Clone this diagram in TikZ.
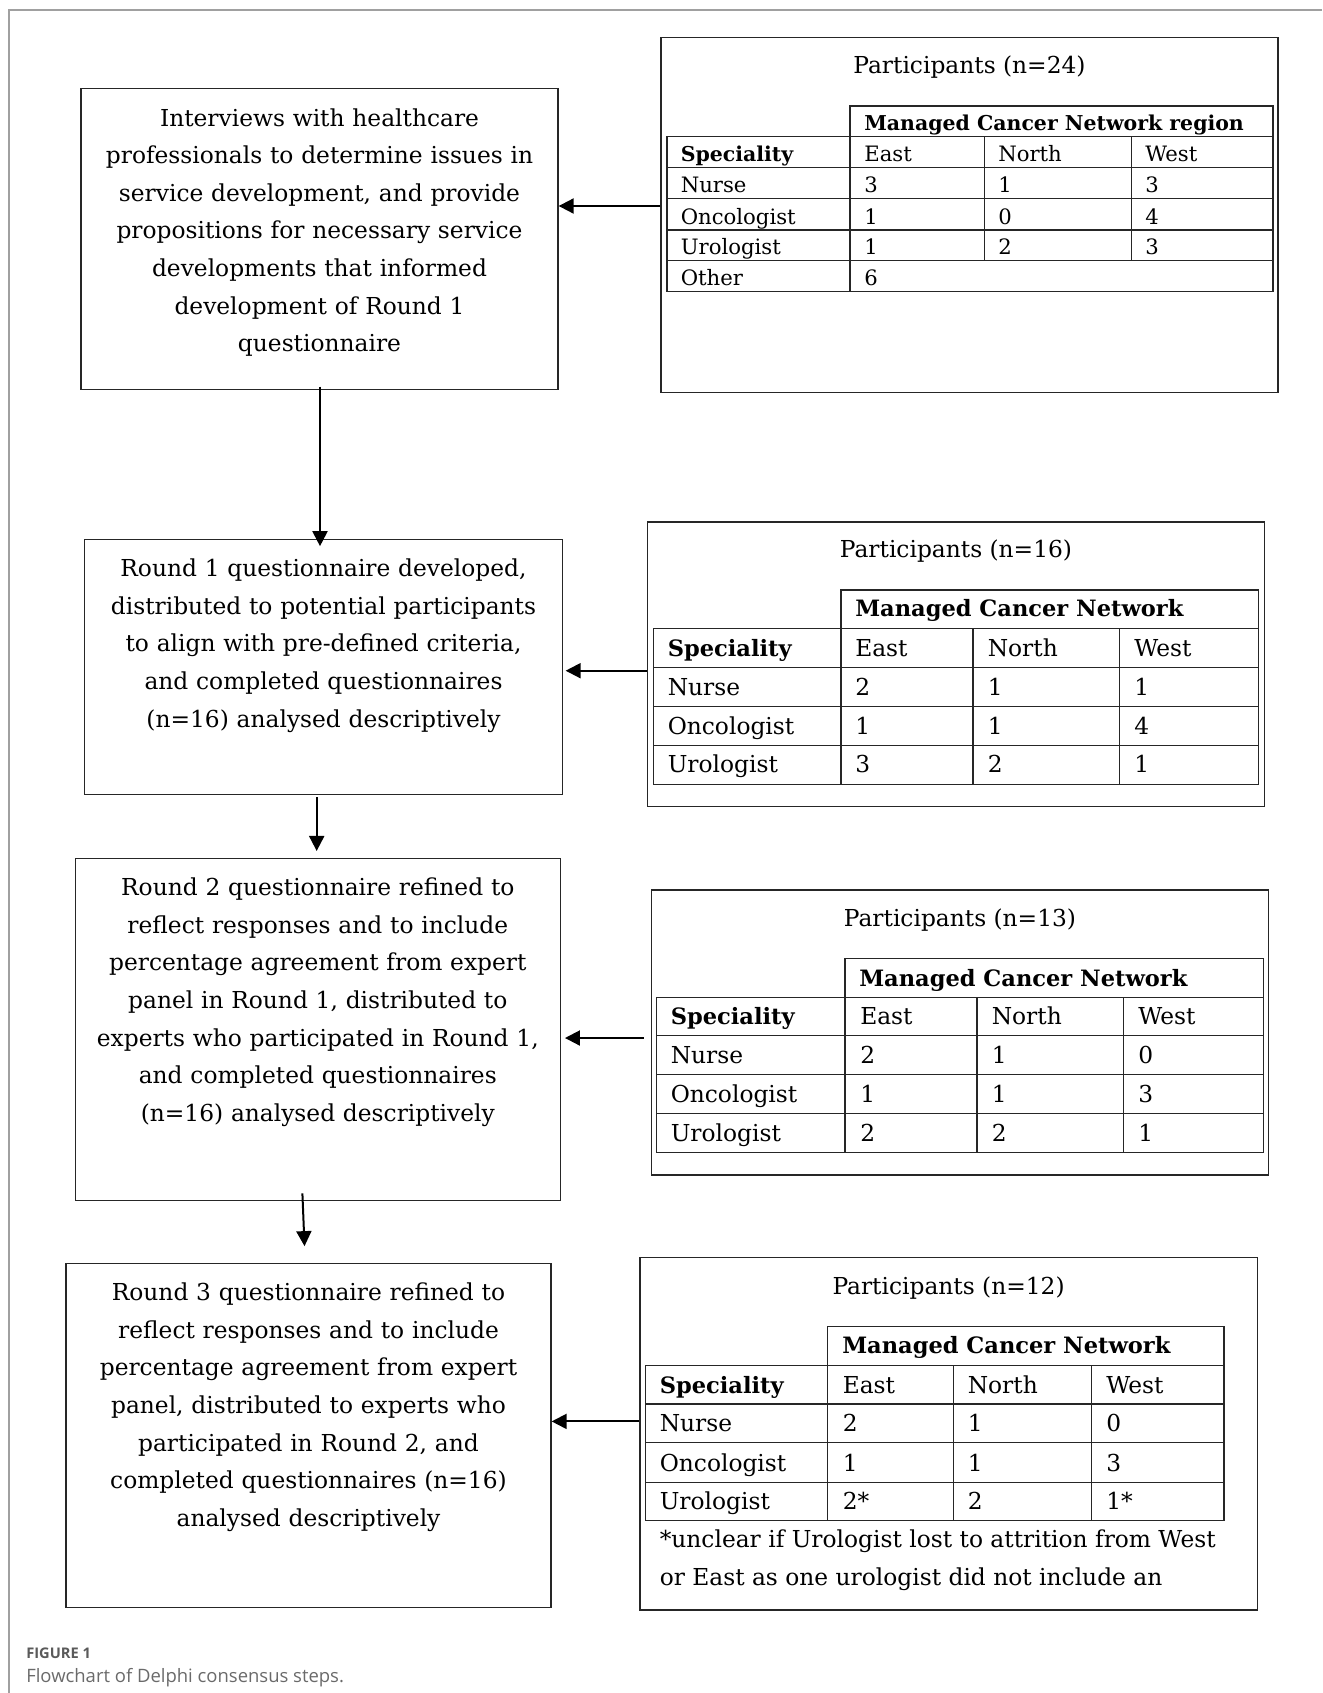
\documentclass[tikz,border=0pt]{standalone}
\usepackage{fontspec}
\setmainfont{DejaVu Serif}
\newfontfamily\capfont{Open Sans}
\usetikzlibrary{arrows.meta,fit}
\newcommand\boxfont{\fontsize{17.5pt}{28.2pt}\selectfont}
\newcommand\tabfont{\fontsize{17.5pt}{28.1pt}\selectfont}
\newcommand\tabfontA{\fontsize{15.9pt}{20pt}\selectfont}
\newcommand\hdB{\fontsize{16.9pt}{20pt}\selectfont\bfseries}
\newcommand\hdA{\fontsize{15.35pt}{20pt}\selectfont\bfseries}
\definecolor{framegray}{HTML}{A0A0A0}
\definecolor{capgray}{HTML}{6A6A6A}
\tikzset{
  box/.style={draw=black!85, line width=1pt, inner sep=0pt},
  btxt/.style={font=\boxfont, text width=360pt, align=center, inner sep=0pt, anchor=base},
  tline/.style={draw=black!85, line width=1pt},
  tt/.style={font=\tabfont, inner sep=0pt, anchor=base west},
  ttA/.style={font=\tabfontA, inner sep=0pt, anchor=base west},
  ttl/.style={font=\tabfont, inner sep=0pt, anchor=base},
  arr/.style={line width=1.5pt, -{Triangle[length=11.25pt,width=11.25pt]}},
}
\begin{document}
\begin{tikzpicture}[x=0.75pt,y=-0.75pt]
\useasboundingbox (0,0) rectangle (1322,1693);
% outer frame
\draw[framegray, line width=0.8pt] (9,1693) -- (9,10) -- (1322,10);

% left boxes
\node[box, fit={(81,88.5) (558,389.3)}] (B1) {};
\node[box, fit={(84.7,539.5) (562.3,794.3)}] (B2) {};
\node[box, fit={(75.3,858.3) (560.3,1200.3)}] (B3) {};
\node[box, fit={(66,1263.3) (551,1607.8)}] (B4) {};

\node[btxt] (B1t) at (319.5,126) {Interviews with healthcare\\ professionals to determine issues in\\ service development, and provide\\ propositions for necessary service\\ developments that informed\\ development of Round 1\\ questionnaire};
\node[btxt] (B2t) at (323.5,576.7) {Round 1 questionnaire developed,\\ distributed to potential participants\\ to align with pre-defined criteria,\\ and completed questionnaires\\ (n=16) analysed descriptively};
\node[btxt] (B3t) at (317.8,895.7) {Round 2 questionnaire refined to\\ reflect responses and to include\\ percentage agreement from expert\\ panel in Round 1, distributed to\\ experts who participated in Round 1,\\ and completed questionnaires\\ (n=16) analysed descriptively};
\node[btxt] (B4t) at (308.5,1300.7) {Round 3 questionnaire refined to\\ reflect responses and to include\\ percentage agreement from expert\\ panel, distributed to experts who\\ participated in Round 2, and\\ completed questionnaires (n=16)\\ analysed descriptively};

% right boxes
\node[box, fit={(661,37.5) (1278,392.5)}] (T1) {};
\node[box, fit={(647.5,522) (1264.8,806.5)}] (T2) {};
\node[box, fit={(651.3,890) (1268.4,1175)}] (T3) {};
\node[box, fit={(640,1257.3) (1257.2,1610)}] (T4) {};

% ---------- table 1
\node[ttl] (T1title) at (969.5,73.3) {Participants (n=24)};
\draw[tline] (850,106) rectangle (1273,136.7);
\draw[tline] (667,136.7) rectangle (1273,291.7);
\foreach \y in {167.7,198.7,230,260.7} \draw[tline] (667,\y) -- (1273,\y);
\draw[tline] (850,136.7) -- (850,291.7);
\foreach \x in {984.5,1131.5} \draw[tline] (\x,136.7) -- (\x,260.7);
\node[ttA] (T1h) at (864,130) {\hdA Managed Cancer Network region};
\foreach \a/\b/\c/\d/\yy [count=\i] in {{\hdA Speciality}/East/North/West/161.7, Nurse/3/1/3/192.7, Oncologist/1/0/4/224, Urologist/1/2/3/254.7}{
  \node[ttA] (T1r\i-a) at (680.5,\yy) {\a};
  \node[ttA] (T1r\i-b) at (864,\yy) {\b};
  \node[ttA] (T1r\i-c) at (998,\yy) {\c};
  \node[ttA] (T1r\i-d) at (1145,\yy) {\d};
}
\node[ttA] (T1r5-a) at (680.5,285.7) {Other};
\node[ttA] (T1r5-b) at (864,285.7) {6};

% ---------- table 2
\node[ttl] (T2title) at (956,557.7) {Participants (n=16)};
\draw[tline] (841,590) rectangle (1258.6,628.3);
\draw[tline] (653.3,628.3) rectangle (1258.6,784.3);
\foreach \y in {667.7,706.7,745.7} \draw[tline] (653.3,\y) -- (1258.6,\y);
\foreach \x in {841,973,1119.5} \draw[tline] (\x,628.3) -- (\x,784.3);
\node[tt] (T2h) at (855,616.7) {\hdB Managed Cancer Network};
\foreach \a/\b/\c/\d/\yy [count=\i] in {{\hdB Speciality}/East/North/West/656, Nurse/2/1/1/695, Oncologist/1/1/4/734, Urologist/3/2/1/772.6}{
  \node[tt] (T2r\i-a) at (667.5,\yy) {\a};
  \node[tt] (T2r\i-b) at (855,\yy) {\b};
  \node[tt] (T2r\i-c) at (987.5,\yy) {\c};
  \node[tt] (T2r\i-d) at (1134,\yy) {\d};
}

% ---------- table 3
\node[ttl] (T3title) at (960,926) {Participants (n=13)};
\draw[tline] (844.9,958.7) rectangle (1263.3,997.3);
\draw[tline] (656.3,997.3) rectangle (1263.3,1152.7);
\foreach \y in {1035.7,1074.3,1113.3} \draw[tline] (656.3,\y) -- (1263.3,\y);
\foreach \x in {844.9,977.1,1123.7} \draw[tline] (\x,997.3) -- (\x,1152.7);
\node[tt] (T3h) at (859,986) {\hdB Managed Cancer Network};
\foreach \a/\b/\c/\d/\yy [count=\i] in {{\hdB Speciality}/East/North/West/1024.7, Nurse/2/1/0/1063.3, Oncologist/1/1/3/1102.3, Urologist/2/2/1/1141.7}{
  \node[tt] (T3r\i-a) at (670.5,\yy) {\a};
  \node[tt] (T3r\i-b) at (860,\yy) {\b};
  \node[tt] (T3r\i-c) at (991.5,\yy) {\c};
  \node[tt] (T3r\i-d) at (1138,\yy) {\d};
}

% ---------- table 4
\node[ttl] (T4title) at (948.6,1294) {Participants (n=12)};
\draw[tline] (827.3,1326.7) rectangle (1224,1365.7);
\draw[tline] (645.7,1365.7) rectangle (1224,1520.7);
\foreach \y in {1404,1442.7,1482.3} \draw[tline] (645.7,\y) -- (1224,\y);
\foreach \x in {827.3,953.7,1091.8} \draw[tline] (\x,1365.7) -- (\x,1520.7);
\node[tt] (T4h) at (842,1353.3) {\hdB Managed Cancer Network};
\foreach \a/\b/\c/\d/\yy [count=\i] in {{\hdB Speciality}/East/North/West/1393, Nurse/2/1/0/1431.7, Oncologist/1/1/3/1471.3, Urologist/2*/2/1*/1509.7}{
  \node[tt] (T4r\i-a) at (659.5,\yy) {\a};
  \node[tt] (T4r\i-b) at (842.5,\yy) {\b};
  \node[tt] (T4r\i-c) at (967.5,\yy) {\c};
  \node[tt] (T4r\i-d) at (1106,\yy) {\d};
}
\node[tt] (T4f1) at (659.5,1547.3) {*unclear if Urologist lost to attrition from West};
\node[tt] (T4f2) at (659.5,1585) {or East as one urologist did not include an};

% ---------- arrows
\draw[arr] (T1.west |- 0,206) -- (B1.east |- 0,206);
\draw[arr, shorten >=2pt] (T2.west |- 0,670.7) -- (B2.east |- 0,670.7);
\draw[arr, shorten <=5pt, shorten >=3pt] (T3.west |- 0,1038) -- (B3.east |- 0,1038);
\draw[arr] (T4.west |- 0,1421.4) -- (B4.east |- 0,1421.4);

\draw[arr, shorten <=-2.5pt, shorten >=-5.5pt] (B1.south -| 320,0) -- (B2.north -| 320,0);
\draw[arr, shorten <=1.8pt, shorten >=5pt] (B2.south -| 316.7,0) -- (B3.north -| 316.7,0);
\draw[arr, shorten <=-5.7pt, shorten >=12.4pt] (B3.south -| 302.7,0) -- (B4.north -| 305.2,0);

% ---------- caption
\node[anchor=base west, inner sep=0pt, text=capgray!85!black, font=\capfont\bfseries\fontsize{11pt}{13pt}\selectfont] (fig) at (26,1658) {FIGURE 1};
\node[anchor=base west, inner sep=0pt, text=capgray, font=\capfont\fontsize{13.85pt}{16pt}\selectfont] (cap) at (26,1682) {Flowchart of Delphi consensus steps.};
\end{tikzpicture}
\end{document}
